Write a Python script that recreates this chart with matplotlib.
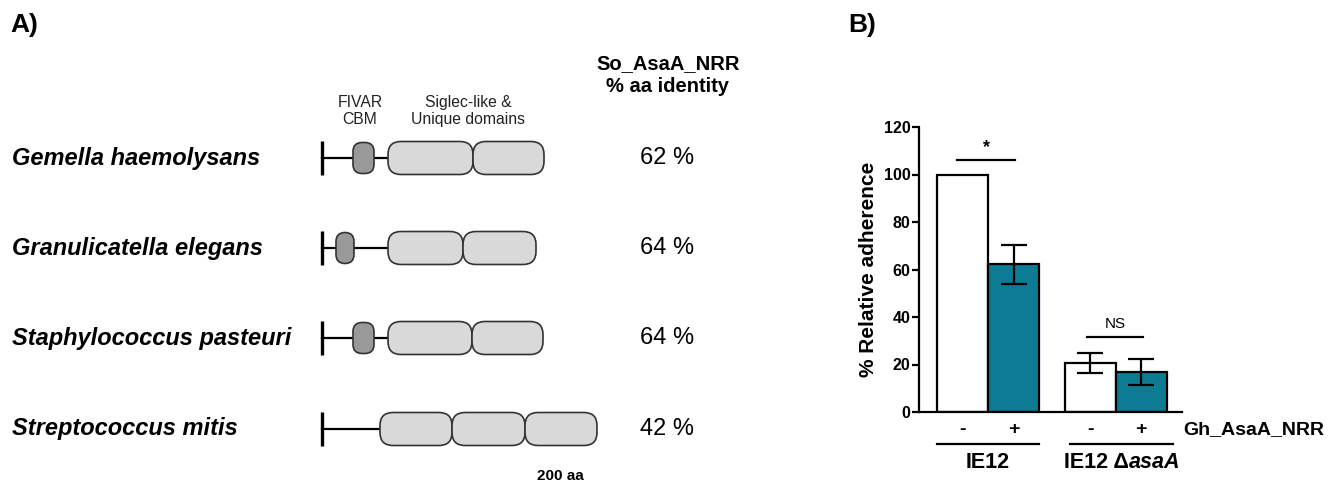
import matplotlib
matplotlib.use('Agg')
import matplotlib.pyplot as plt
from matplotlib.patches import FancyBboxPatch

plt.rcParams['font.family'] = ['Liberation Sans', 'DejaVu Sans']

# ---- panel A data (schematic, x in drawing units) ----
species = ['Gemella haemolysans', 'Granulicatella elegans',
           'Staphylococcus pasteuri', 'Streptococcus mitis']
identity = ['62 %', '64 %', '64 %', '42 %']
row_y = [158, 248, 338, 429]
anchor_x = [322, 322, 322, 322]
fivar = [(353, 374), (336, 354), (353, 374), None]
domains = [[(388, 473), (473, 544)],
           [(388, 463), (463, 536)],
           [(388, 472), (472, 543)],
           [(380, 452), (452, 525), (525, 597)]]

# ---- panel B data ----
bar_pos = [0, 1, 2.5, 3.5]
adherence = [100, 62.3, 20.5, 16.8]
adherence_err = [0, 8.2, 4.2, 5.5]
bar_colors = ['white', '#0c7b93', 'white', '#0c7b93']
nrr_labels = ['-', '+', '-', '+']

fig = plt.figure(figsize=(13.4, 4.88), dpi=100)

# panel A drawn on a full-figure axes in pixel units
axA = fig.add_axes([0, 0, 1, 1])
axA.set_xlim(0, 1340)
axA.set_ylim(488, 0)
axA.axis('off')

axA.text(10, 25, 'A)', fontsize=19, fontweight='bold', va='center')
axA.text(848, 25, 'B)', fontsize=19, fontweight='bold', va='center')

axA.text(668, 75, 'So_AsaA_NRR\n% aa identity', fontsize=14.5,
         fontweight='bold', ha='center', va='center', linespacing=1.3)
axA.text(360, 111, 'FIVAR\nCBM', fontsize=11.3, ha='center', va='center',
         color='#222222', linespacing=1.1)
axA.text(468, 111, 'Siglec-like &\nUnique domains', fontsize=11.3,
         ha='center', va='center', color='#222222', linespacing=1.1)
axA.text(560, 476, '200 aa', fontsize=11, fontweight='bold',
         ha='center', va='center')

h = 33
for i, name in enumerate(species):
    y = row_y[i]
    axA.text(12, y, name, fontsize=17, fontweight='bold', style='italic',
             va='center')
    axA.text(667, y, identity[i], fontsize=17, ha='center', va='center')
    start = domains[i][0][0]
    axA.plot([anchor_x[i], start], [y, y], color='black', lw=1.6, zorder=1)
    axA.plot([anchor_x[i], anchor_x[i]], [y - 17, y + 17], color='black',
             lw=2.4, solid_capstyle='butt', zorder=1)
    if fivar[i] is not None:
        x0, x1 = fivar[i]
        axA.add_patch(FancyBboxPatch((x0, y - 15.5), x1 - x0, 31,
                                     boxstyle='round,pad=0,rounding_size=9',
                                     fc='#999999', ec='#333333', lw=1.2,
                                     zorder=2))
    for x0, x1 in domains[i]:
        axA.add_patch(FancyBboxPatch((x0, y - h / 2), x1 - x0, h,
                                     boxstyle='round,pad=0,rounding_size=13',
                                     fc='#d9d9d9', ec='#333333', lw=1.2,
                                     zorder=2))

# panel B
ax = fig.add_axes([919 / 1340, 1 - 412 / 488, 263 / 1340, 285 / 488])
ax.bar(bar_pos, adherence, width=1.0, color=bar_colors, edgecolor='black',
       linewidth=1.6, zorder=2)
for x, v, e in zip(bar_pos, adherence, adherence_err):
    if e > 0:
        ax.errorbar(x, v, yerr=e, fmt='none', ecolor='black', elinewidth=1.6,
                    capsize=9.5, capthick=1.6, zorder=3)
ax.set_xlim(-0.853, 4.30)
ax.set_ylim(0, 120)
ax.set_yticks([0, 20, 40, 60, 80, 100, 120])
ax.set_xticks([])
for s in ['top', 'right']:
    ax.spines[s].set_visible(False)
for s in ['left', 'bottom']:
    ax.spines[s].set_linewidth(1.6)
ax.tick_params(axis='y', length=5, width=1.6, pad=1, labelsize=11.5)
for lab in ax.get_yticklabels():
    lab.set_fontweight('bold')
ax.set_ylabel('% Relative adherence', fontsize=15, fontweight='bold',
              labelpad=4)

# significance marks
ax.plot([-0.1, 1.03], [106.2, 106.2], color='black', lw=1.6, clip_on=False)
ax.text(0.47, 111.5, '*', fontsize=13, fontweight='bold', ha='center',
        va='center')
ax.plot([2.44, 3.54], [31.7, 31.7], color='black', lw=1.6, clip_on=False)
ax.text(2.99, 34, 'NS', fontsize=11, ha='center', va='bottom')

# labels below the axis
for x, t in zip(bar_pos, nrr_labels):
    ax.text(x, -7.2, t, fontsize=14, fontweight='bold', ha='center',
            va='center', clip_on=False)
ax.text(4.32, -7.2, 'Gh_AsaA_NRR', fontsize=14, fontweight='bold',
        ha='left', va='center')
ax.plot([-0.5, 1.5], [-13.6, -13.6], color='black', lw=1.6, clip_on=False)
ax.plot([2.1, 4.12], [-13.6, -13.6], color='black', lw=1.6, clip_on=False)
ax.text(0.5, -21.3, 'IE12', fontsize=15.5, fontweight='bold',
        ha='center', va='center')
ax.text(3.26, -21.3, 'IE12 \u0394', fontsize=15.5, fontweight='bold',
        ha='right', va='center')
ax.text(3.26, -21.3, 'asaA', fontsize=15.5, fontweight='bold',
        style='italic', ha='left', va='center')

fig.savefig('out.png', dpi=100)
